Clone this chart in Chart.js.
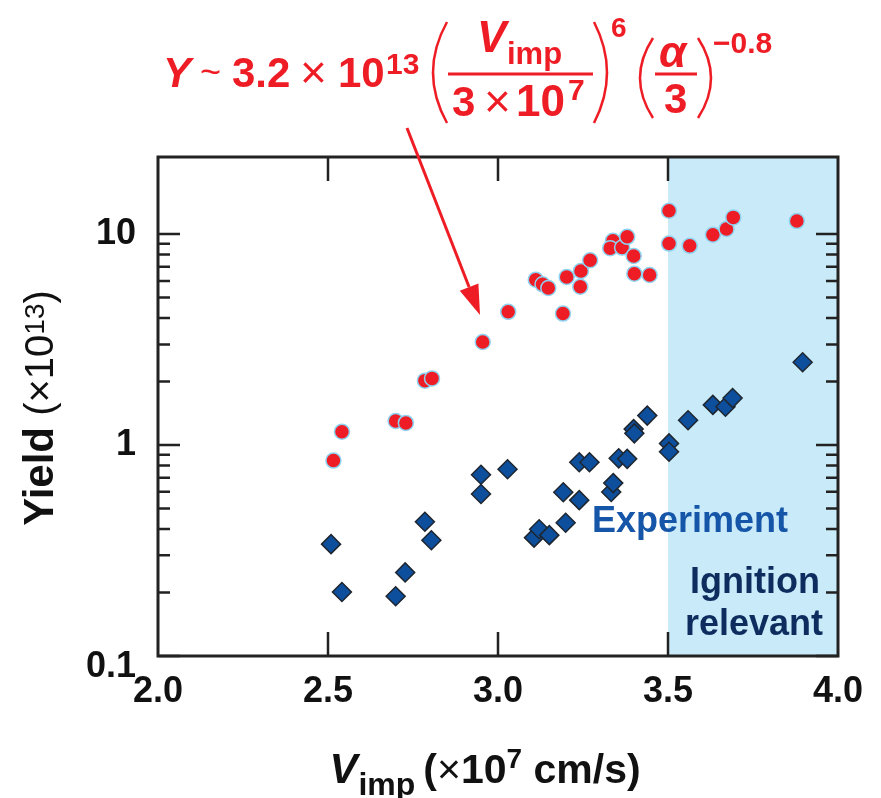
<!DOCTYPE html>
<html lang="en">
<head>
<meta charset="UTF-8">
<title>Yield vs implosion velocity</title>
<script src="https://cdn.jsdelivr.net/npm/chart.js@4"></script>
<style>
  html, body { margin: 0; padding: 0; background: #fff; }
  canvas { display: block; }
</style>
</head>
<body>
<canvas id="yieldChart" width="881" height="798"></canvas>
<script>
// Scaling-law yields (red circles): Vimp in 1e7 cm/s, yield in 1e13
const scalingVimp  = [2.516, 2.541, 2.699, 2.729, 2.785, 2.806, 2.955, 3.030, 3.111, 3.131,
                      3.148, 3.191, 3.202, 3.244, 3.242, 3.271, 3.338, 3.330, 3.365, 3.380,
                      3.399, 3.401, 3.446, 3.503, 3.503, 3.564, 3.632, 3.672, 3.692, 3.879];
const scalingYield = [0.844, 1.157, 1.30, 1.273, 2.02, 2.07, 3.08, 4.28, 6.08, 5.78,
                      5.55, 4.20, 6.26, 6.69, 5.63, 7.52, 9.29, 8.58, 8.63, 9.71,
                      7.88, 6.49, 6.40, 12.9, 9.02, 8.80, 9.93, 10.57, 12.0, 11.53];

// Measured yields (blue diamonds)
const expVimp  = [2.509, 2.541, 2.699, 2.727, 2.785, 2.804, 2.950, 2.950, 3.028, 3.106,
                  3.121, 3.151, 3.192, 3.199, 3.239, 3.269, 3.239, 3.333, 3.339, 3.355,
                  3.380, 3.399, 3.401, 3.439, 3.503, 3.503, 3.559, 3.632, 3.669, 3.690, 3.896];
const expYield = [0.339, 0.201, 0.192, 0.249, 0.433, 0.354, 0.723, 0.586, 0.768, 0.364,
                  0.399, 0.374, 0.597, 0.428, 0.829, 0.829, 0.548, 0.599, 0.660, 0.865,
                  0.860, 1.19, 1.136, 1.379, 1.018, 0.930, 1.31, 1.55, 1.52, 1.67, 2.47];

const xTicks = [2.0, 2.5, 3.0, 3.5, 4.0];
const yTicks = [0.1, 1, 10];
const ignitionFrom = 3.5;

const FONT = "'Liberation Sans', Arial, Helvetica, sans-serif";
const RED = '#ee1d25';

function toPoints(xs, ys) {
    return xs.map((v, i) => ({ x: v, y: ys[i] }));
}

// draw a list of text pieces one after another on a shared baseline
function drawRuns(ctx, parts, x, y) {
    let cx = x;
    parts.forEach(p => {
        ctx.font = p.font;
        ctx.fillText(p.t, cx, y + (p.dy || 0));
        cx += ctx.measureText(p.t).width + (p.gap || 0);
    });
    return cx;
}
function runsWidth(ctx, parts) {
    let w = 0;
    parts.forEach(p => {
        ctx.font = p.font;
        w += ctx.measureText(p.t).width + (p.gap || 0);
    });
    return w;
}

// thin tall bracket drawn as a curve
function paren(ctx, xa, xb, top, bottom, open) {
    const mid = (top + bottom) / 2;
    ctx.beginPath();
    if (open) {
        ctx.moveTo(xb, top);
        ctx.quadraticCurveTo(2 * xa - xb, mid, xb, bottom);
    } else {
        ctx.moveTo(xa, top);
        ctx.quadraticCurveTo(2 * xb - xa, mid, xa, bottom);
    }
    ctx.stroke();
}

const decorPlugin = {
    id: 'decor',
    beforeDatasetsDraw(chart) {
        const { ctx, chartArea: a, scales: { x } } = chart;
        const x0 = x.getPixelForValue(ignitionFrom);
        ctx.save();
        ctx.fillStyle = '#c9ebf9';
        ctx.fillRect(x0, a.top, a.right - x0, a.bottom - a.top);
        ctx.restore();
    },
    afterDatasetsDraw(chart) {
        const { ctx, chartArea: a, scales: { x, y } } = chart;
        ctx.save();
        ctx.strokeStyle = '#222';
        // inward ticks on all four sides
        ctx.lineWidth = 2.5;
        ctx.beginPath();
        xTicks.slice(1, -1).forEach(v => {
            const px = x.getPixelForValue(v);
            ctx.moveTo(px, a.bottom); ctx.lineTo(px, a.bottom - 24);
            ctx.moveTo(px, a.top); ctx.lineTo(px, a.top + 24);
        });
        yTicks.forEach(v => {
            const py = y.getPixelForValue(v);
            ctx.moveTo(a.left, py); ctx.lineTo(a.left + 22, py);
            ctx.moveTo(a.right, py); ctx.lineTo(a.right - 22, py);
        });
        [0.1, 1].forEach(d => {
            for (let k = 2; k <= 9; k++) {
                const py = y.getPixelForValue(d * k);
                ctx.moveTo(a.left, py); ctx.lineTo(a.left + 12, py);
                ctx.moveTo(a.right, py); ctx.lineTo(a.right - 12, py);
            }
        });
        ctx.stroke();
        // frame
        ctx.lineWidth = 3;
        ctx.strokeRect(a.left, a.top, a.right - a.left, a.bottom - a.top);
        ctx.restore();
    },
    afterDraw(chart) {
        const { ctx } = chart;
        ctx.save();
        ctx.textBaseline = 'alphabetic';
        ctx.textAlign = 'left';

        // axis titles
        ctx.fillStyle = '#111';
        const xt = [
            { t: 'V', font: `italic bold 42px ${FONT}`, gap: 1 },
            { t: 'imp', font: `bold 32px ${FONT}`, dy: 12, gap: 8 },
            { t: '(', font: `bold 41px ${FONT}` },
            { t: '\u00d7', font: `41px ${FONT}` },
            { t: '10', font: `bold 41px ${FONT}` },
            { t: '7', font: `bold 28px ${FONT}`, dy: -15 },
            { t: ' cm/s)', font: `bold 41px ${FONT}` }
        ];
        drawRuns(ctx, xt, 485 - runsWidth(ctx, xt) / 2, 783);

        const yt = [
            { t: 'Yield', font: `bold 42px ${FONT}` },
            { t: ' (\u00d710', font: `40px ${FONT}` },
            { t: '13', font: `28px ${FONT}`, dy: -9 },
            { t: ')', font: `40px ${FONT}` }
        ];
        ctx.save();
        ctx.translate(53, 408);
        ctx.rotate(-Math.PI / 2);
        drawRuns(ctx, yt, -runsWidth(ctx, yt) / 2, 0);
        ctx.restore();

        // region labels
        ctx.fillStyle = '#1656a8';
        ctx.font = `bold 36px ${FONT}`;
        ctx.fillText('Experiment', 592, 532);
        ctx.fillStyle = '#0e2d5e';
        ctx.textAlign = 'right';
        ctx.fillText('Ignition', 820, 593);
        ctx.fillText('relevant', 823, 635);
        ctx.textAlign = 'left';

        // scaling formula
        ctx.fillStyle = RED;
        ctx.strokeStyle = RED;
        const B = (s) => `bold ${s}px ${FONT}`;
        const text = (t, font, px, py) => { ctx.font = font; ctx.fillText(t, px, py); };
        text('Y', `italic ${B(42)}`, 163, 87);
        text('~', `36px ${FONT}`, 200, 84);
        text('3.2', B(42), 232, 87);
        text('\u00d7', `46px ${FONT}`, 300, 88);
        text('10', B(42), 338, 87);
        text('13', B(30), 386, 74);

        ctx.lineWidth = 2.5;
        paren(ctx, 433, 447, 22, 123, true);
        text('V', `italic ${B(44)}`, 477, 52);
        text('imp', B(31), 507, 64);
        ctx.lineWidth = 3;
        ctx.beginPath(); ctx.moveTo(448, 74); ctx.lineTo(593, 74); ctx.stroke();
        text('3', B(42), 452, 116);
        text('\u00d7', `46px ${FONT}`, 484, 117);
        text('10', B(44), 516, 116);
        text('7', B(30), 568, 100);
        ctx.lineWidth = 2.5;
        paren(ctx, 594, 607, 22, 123, false);
        text('6', B(28), 611, 37);

        paren(ctx, 640, 653, 38, 118, true);
        text('\u03b1', `italic ${B(44)}`, 659, 67);
        ctx.lineWidth = 3;
        ctx.beginPath(); ctx.moveTo(655, 74); ctx.lineTo(697, 74); ctx.stroke();
        text('3', B(42), 664, 113);
        ctx.lineWidth = 2.5;
        paren(ctx, 698, 711, 38, 118, false);
        text('\u22120.8', B(30), 713, 53);

        // arrow from the formula down to the curve
        const sx = 407, sy = 128, ex = 480, ey = 315;
        const ang = Math.atan2(ey - sy, ex - sx);
        const hl = 30, hw = 10;
        const bx = ex - hl * Math.cos(ang), by = ey - hl * Math.sin(ang);
        ctx.lineWidth = 3;
        ctx.beginPath(); ctx.moveTo(sx, sy); ctx.lineTo(bx, by); ctx.stroke();
        ctx.beginPath();
        ctx.moveTo(ex, ey);
        ctx.lineTo(bx + hw * Math.sin(ang), by - hw * Math.cos(ang));
        ctx.lineTo(bx - hw * Math.sin(ang), by + hw * Math.cos(ang));
        ctx.closePath();
        ctx.fill();
        ctx.restore();
    }
};

new Chart(document.getElementById('yieldChart'), {
    type: 'scatter',
    data: {
        datasets: [{
            label: 'Scaling',
            data: toPoints(scalingVimp, scalingYield),
            pointStyle: 'circle',
            pointRadius: 7.5,
            backgroundColor: RED,
            borderColor: '#8ed3f1',
            borderWidth: 1.5
        }, {
            label: 'Experiment',
            data: toPoints(expVimp, expYield),
            pointStyle: 'rectRot',
            pointRadius: 9.5,
            backgroundColor: '#0d4f9d',
            borderColor: '#1e2630',
            borderWidth: 1.5
        }]
    },
    options: {
        responsive: false,
        animation: false,
        devicePixelRatio: 1,
        layout: { padding: { top: 157, right: 43, left: 0, bottom: 0 } },
        plugins: { legend: { display: false }, tooltip: { enabled: false } },
        scales: {
            x: {
                type: 'linear',
                min: 2, max: 4,
                afterBuildTicks: s => { s.ticks = xTicks.map(v => ({ value: v })); },
                afterFit: s => { s.height = 142; },
                ticks: {
                    callback: v => v.toFixed(1),
                    font: { family: FONT, size: 36, weight: 'bold' },
                    color: '#111',
                    padding: 14,
                    maxRotation: 0,
                    autoSkip: false
                },
                grid: { display: false, drawTicks: false },
                border: { display: false }
            },
            y: {
                type: 'logarithmic',
                min: 0.1, max: 23.2,
                afterBuildTicks: s => { s.ticks = yTicks.map(v => ({ value: v })); },
                afterFit: s => { s.width = 158; },
                ticks: {
                    // the bottom label sits a little below its tick, clear of the corner
                    callback: v => (v === 0.1 ? ['', '0.1'] : String(v)),
                    font: { family: FONT, size: 36, weight: 'bold', lineHeight: 0.62 },
                    color: '#111',
                    padding: 22,
                    autoSkip: false
                },
                grid: { display: false, drawTicks: false },
                border: { display: false }
            }
        }
    },
    plugins: [decorPlugin]
});
</script>
</body>
</html>
